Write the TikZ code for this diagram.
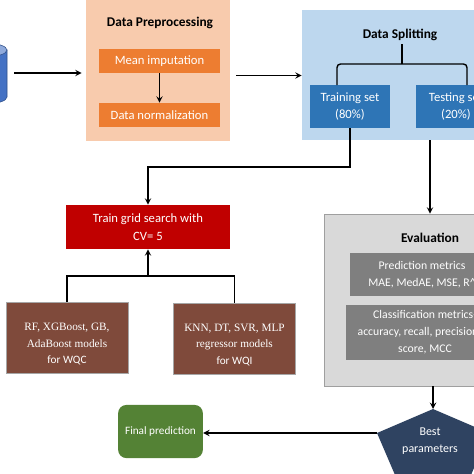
\documentclass[tikz,border=0pt]{standalone}
\usepackage{fontspec}
\setmainfont{Carlito}
\newfontfamily\modelfont{Liberation Serif}
\usepackage{xcolor}
\usetikzlibrary{arrows,shapes,shapes.geometric,calc,positioning}
\definecolor{colorPrep}{HTML}{F8CBAD}
\definecolor{colorOrange}{HTML}{ED7D31}
\definecolor{colorSplit}{HTML}{BDD7EE}
\definecolor{colorBlue}{HTML}{2E75B6}
\definecolor{colorRed}{HTML}{C00000}
\definecolor{colorBrown}{HTML}{7F4A3B}
\definecolor{colorGreen}{HTML}{548235}
\definecolor{colorEval}{HTML}{D9D9D9}
\definecolor{colorMetric}{HTML}{7F7F7F}
\definecolor{colorBest}{HTML}{2F4361}
\definecolor{colorDb}{HTML}{4472C4}
\tikzset{
   every path/.style={>=stealth},
   conn/.style={->,draw=black,line width=1pt},
   line/.style={draw=black,line width=1pt},
}

\begin{document}
\begin{tikzpicture}[x=0.025cm,y=-0.025cm,
    box/.style={draw=none, inner sep=0pt, align=center, text=white, font=\fontsize{9}{12.5}\selectfont},
    model/.style={box, draw=gray!70, line width=0.4pt, fill=colorBrown, minimum width=3.06cm, minimum height=1.78cm, font=\fontsize{8}{11.7}\selectfont},
    metric/.style={box, fill=colorMetric, minimum width=3.6cm, font=\fontsize{8.35}{12.2}\selectfont},
    panel/.style={draw=none, inner sep=0pt},
    heading/.style={font=\fontsize{9.5}{12}\selectfont\bfseries, inner sep=0pt},
    >=stealth
]
\useasboundingbox (0,0) rectangle (474,474);

% ------------------------------------------------------------
% Source data
% ------------------------------------------------------------
\coordinate (db) at (7,73);
\draw[draw=colorDb!70!black, fill=colorDb] (7,50) -- (7,97) arc[start angle=0, end angle=-180, x radius=0.55cm, y radius=0.175cm] -- (-37,50) -- cycle;
\draw[draw=colorDb!70!black, fill=colorDb!60!white] (-15,50) ellipse[x radius=0.55cm, y radius=0.175cm];

% ------------------------------------------------------------
% Data preprocessing
% ------------------------------------------------------------
\node[panel, fill=colorPrep, minimum width=3.6cm, minimum height=3.65cm] (prep) at (158,67.5) {};
\node[heading] (prepT) at (160,23) {Data Preprocessing};
\node[box, fill=colorOrange, minimum width=3.03cm, minimum height=0.6cm] (mean) at (159.5,61) {Mean imputation};
\node[box, fill=colorOrange, minimum width=3.03cm, minimum height=0.6cm] (norm) at (159.5,115) {Data normalization};

\draw[conn] (mean) to (norm);

% ------------------------------------------------------------
% Data splitting
% ------------------------------------------------------------
\node[panel, fill=colorSplit, minimum width=5cm, minimum height=3.25cm] (split) at (402,75) {};
\node[heading] (splitT) at (400,35) {Data Splitting};
\node[box, fill=colorBlue, minimum width=2cm, minimum height=1.08cm] (train) at (350,106.5) {Training set\\(80\%)};
\node[box, fill=colorBlue, minimum width=2cm, minimum height=1.08cm] (test) at (456,106.5) {Testing set\\(20\%)};

\coordinate (brTop) at (402,44);
\coordinate (brMid) at (402,64);
\coordinate (brL) at (337,85);
\coordinate (brR) at (467,85);
\draw[line, rounded corners=2.5pt] (brL) |- (brMid) -| (brR);
\draw[line] (brMid) -- (brTop);

\draw[conn, shorten <=0.175cm, shorten >=0.1cm] (db) -- (prep.west |- db);
\draw[conn, shorten <=0.15cm] (prep.east |- 0,75.5) -- (split.west |- 0,75.5);

% ------------------------------------------------------------
% Grid search and models
% ------------------------------------------------------------
\node[box, fill=colorRed, minimum width=4.08cm, minimum height=1.1cm] (grid) at (148,227) {Train grid search with\\CV= 5};
\node[model] (rf) at (67,338)
     {\rule{0pt}{14pt}{\modelfont RF, XGBoost, GB,}\\{\modelfont AdaBoost models}\\for WQC};
\node[model] (knn) at (234.5,338.5)
     {\rule{0pt}{14pt}{\modelfont KNN, DT, SVR, MLP}\\{\modelfont regressor models}\\for WQI};

\coordinate (join) at (148,276);
\draw[line] (rf.north) |- (join);
\draw[line] (knn.north) |- (join);
\draw[conn] (join) to (grid.south);
\draw[conn] (train.south) |- (148,167) -- (grid.north);

% ------------------------------------------------------------
% Evaluation
% ------------------------------------------------------------
\node[panel, draw=gray!75, line width=0.4pt, fill=colorEval, minimum width=4.3cm, minimum height=4.3cm] (eval) at (410,300) {};
\node[heading] (evalT) at (430,238) {Evaluation};
\node[metric, minimum height=1.08cm] (pred) at (422,274.5)
     {Prediction metrics\\MAE, MedAE, MSE, R\textasciicircum};
\node[metric, minimum height=1.38cm] (clf) at (418,332.5)
     {\hspace*{10pt}Classification metrics-\\accuracy, recall, precision\\\hspace*{10pt}score, MCC};

\draw[conn] (split.south -| evalT) -- (eval.north -| evalT);

% ------------------------------------------------------------
% Best parameters and final prediction
% ------------------------------------------------------------
\coordinate (bestT) at (433,409);
\coordinate (bestL) at (377,433);
\coordinate (bestBL) at (398,482);
\coordinate (bestBR) at (468,482);
\coordinate (bestR) at (489,433);
\fill[colorBest] (bestT) -- (bestL) -- (bestBL) -- (bestBR) -- (bestR) -- cycle;
\node[box, font=\fontsize{8.5}{12}\selectfont] (bestLbl) at (430,441) {Best\\parameters};

\node[box, fill=colorGreen, rounded corners=6pt, minimum width=2.12cm, minimum height=1.33cm, font=\fontsize{8}{10}\selectfont] (final) at (160.5,431.5) {Final prediction};

\draw[conn] (eval.south -| bestT) -- (bestT);
\draw[conn] (bestL) -- (final.east |- bestL);
\end{tikzpicture}
\end{document}
